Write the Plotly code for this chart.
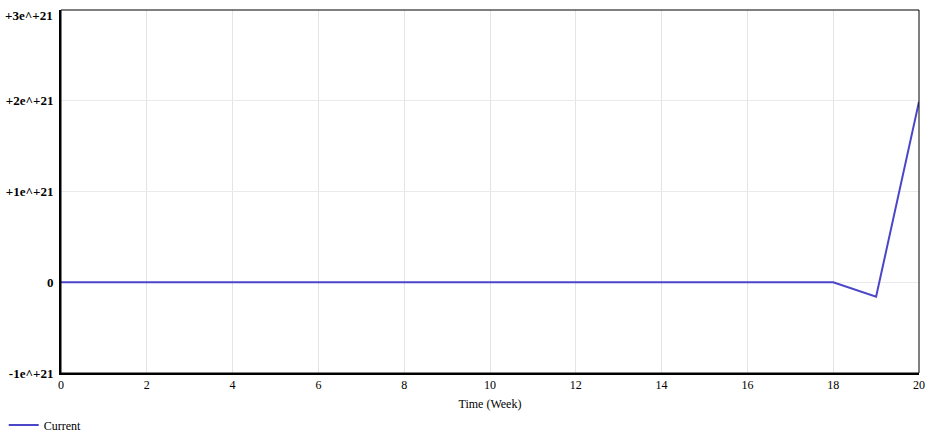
import plotly.graph_objects as go

weeks = list(range(0, 21))
current = [0.0] * 19 + [-0.16e21, 1.99e21]

y_tickvals = [-1e21, 0, 1e21, 2e21, 3e21]
y_ticktext = ["-1e^+21", "0", "+1e^+21", "+2e^+21", ""]
top_label = "+3e^+21"
x_tickvals = list(range(0, 21, 2))

fig = go.Figure()
fig.add_trace(go.Scatter(x=weeks, y=current, mode="lines", name="Current",
                         line=dict(color="#4b45c8", width=2)))

fig.update_layout(
    width=929, height=432,
    margin=dict(l=61, r=10, t=10, b=59, autoexpand=False),
    paper_bgcolor="white", plot_bgcolor="white",
    font=dict(family="Liberation Serif", color="black", size=11),
    showlegend=True,
    legend=dict(x=0.004, y=0.016, xref="container", yref="container",
                xanchor="left", yanchor="middle",
                orientation="h", font=dict(size=12, family="Liberation Serif"),
                bgcolor="rgba(0,0,0,0)"),
    xaxis=dict(range=[0, 20], tickvals=x_tickvals, showgrid=True,
               gridcolor="#e4e4e4", gridwidth=1, zeroline=False, automargin=False,
               showline=True, linecolor="black", linewidth=2, mirror=False,
               ticks="", tickfont=dict(size=12, family="Liberation Serif"),
               title=dict(text="Time (Week)", font=dict(size=12, family="Liberation Serif"), standoff=17)),
    yaxis=dict(range=[-1e21, 3e21], tickvals=y_tickvals, ticktext=y_ticktext,
               showgrid=True, gridcolor="#eaeaee", gridwidth=1, zeroline=False, automargin=False,
               showline=True, linecolor="black", linewidth=2, ticklabelstandoff=3,
               ticks="", tickfont=dict(size=13, family="Liberation Serif", weight="bold")),
)
fig.add_annotation(x=0, y=3e21, xref="paper", yref="y", text=top_label, showarrow=False,
                   xanchor="right", yanchor="middle", xshift=-6, yshift=-5,
                   font=dict(size=13, family="Liberation Serif", weight="bold", color="black"))
fig.add_shape(type="rect", xref="paper", yref="paper", x0=0, y0=0, x1=1, y1=1,
              line=dict(color="black", width=1))

fig.write_html("out.html", config={"displayModeBar": False},
               post_script="document.body.style.margin='0';")
